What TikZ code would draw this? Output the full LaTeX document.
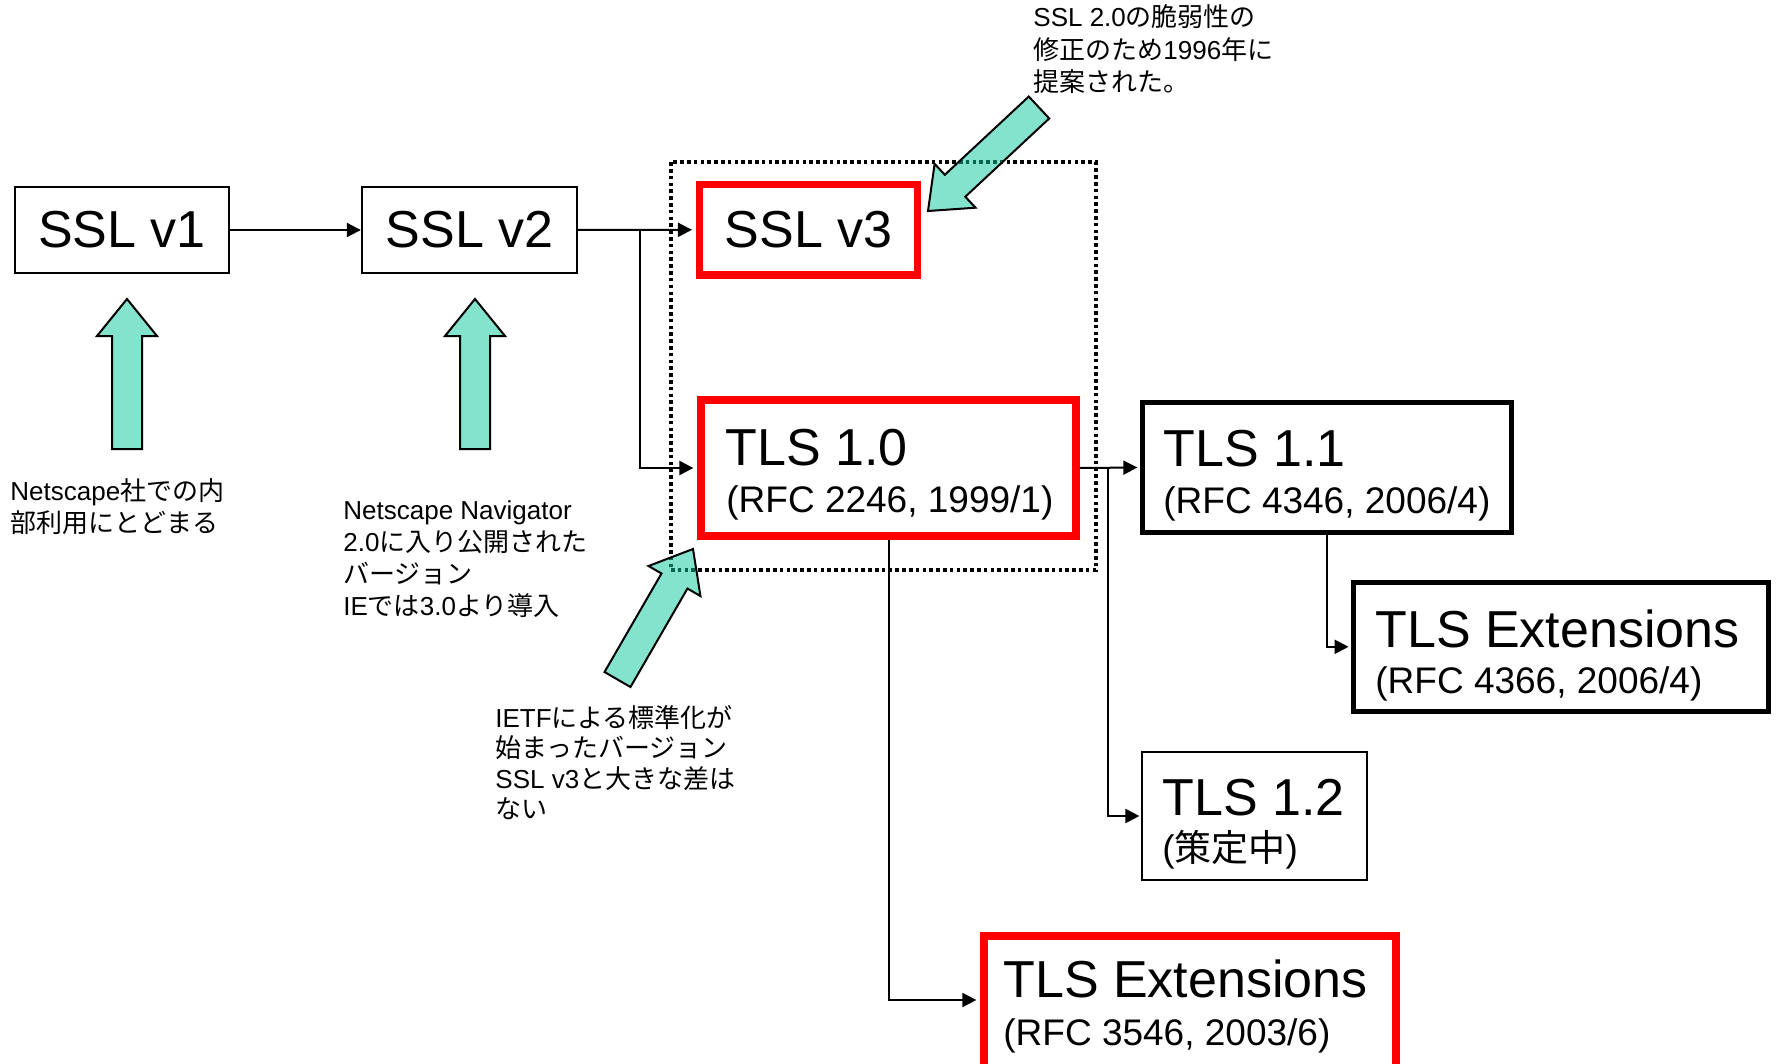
\documentclass[tikz,border=0pt]{standalone}
\usepackage{fontspec}
\setmainfont{Liberation Sans}
\newfontfamily\cjk{Noto Sans CJK JP}
\usetikzlibrary{arrows.meta,calc}
\definecolor{aquafill}{HTML}{0AC89C}
\definecolor{boxred}{HTML}{FF0000}
\newcommand\notelines[1]{\vtop{\halign{##\hfil\cr #1\crcr}}}
\newcommand\blockarrow[2]{%
  \coordinate (hb) at ($(#2)!18.5pt!(#1)$);
  \draw[barrow] ($(#1)!7.5pt!90:(#2)$) -- ($(hb)!7.5pt!-90:(#1)$) -- ($(hb)!15pt!-90:(#1)$) -- (#2)
     -- ($(hb)!15pt!90:(#1)$) -- ($(hb)!7.5pt!90:(#1)$) -- ($(#1)!7.5pt!-90:(#2)$) -- cycle;
}
\tikzset{
  boxthin/.style={draw, line width=1.2pt, inner sep=0pt, rectangle},
  boxthick/.style={draw, line width=2.5pt, inner sep=0pt, rectangle},
  boxredst/.style={draw=boxred, line width=3.85pt, inner sep=0pt, rectangle},
  bigtxt/.style={font=\fontsize{26}{30}\selectfont, inner sep=0pt},
  medtxt/.style={font=\fontsize{18.5}{22}\selectfont, inner sep=0pt},
  notetxt/.style={font=\fontsize{13}{16}\selectfont, inner sep=0pt, anchor=base west},
  conn/.style={draw, line width=1pt, -{Triangle[length=7pt,width=7pt]}},
  dotbox/.style={draw, line width=1.8pt, dash pattern=on 1.8pt off 1.6pt},
  barrow/.style={draw, line width=1pt, fill=aquafill, fill opacity=0.5, line join=miter},
}
\begin{document}
\begin{tikzpicture}[x=0.5pt,y=-0.5pt]
\useasboundingbox (0,0) rectangle (1776,1064);
\clip (0,0) rectangle (1776,1064);

% dotted group frame
\draw[dotbox] (670.7,162.3) rectangle (1095.7,570);

% boxes
\node[boxthin, bigtxt, minimum width=107pt, minimum height=43pt] (v1) at (122,230) {SSL v1};
\node[boxthin, bigtxt, minimum width=107.5pt, minimum height=43pt] (v2) at (469.5,230) {SSL v2};
\node[boxredst, bigtxt, minimum width=109pt, minimum height=45.25pt] (v3) at (808.6,229.8) {SSL v3};
\node[boxredst, minimum width=187.5pt, minimum height=68pt] (tls10) at (888.5,468) {};
\node[boxthick, minimum width=184.75pt, minimum height=64.8pt] (tls11) at (1327,467.5) {};
\node[boxthick, minimum width=207.25pt, minimum height=64.3pt] (ext2) at (1560.75,646.8) {};
\node[boxthin, minimum width=112.5pt, minimum height=63.75pt] (tls12) at (1254.3,816) {};
\node[boxredst, minimum width=206pt, minimum height=74pt] (ext1) at (1190,1010) {};

% box texts
\node[bigtxt, anchor=base west] (t10a) at (725,465) {TLS 1.0};
\node[medtxt, anchor=base west] (t10b) at (726,512.7) {(RFC 2246, 1999/1)};
\node[bigtxt, anchor=base west] (t11a) at (1163,466) {TLS 1.1};
\node[medtxt, anchor=base west] (t11b) at (1163,513) {(RFC 4346, 2006/4)};
\node[bigtxt, anchor=base west] (e2a) at (1375,647) {TLS Extensions};
\node[medtxt, anchor=base west] (e2b) at (1375,693) {(RFC 4366, 2006/4)};
\node[bigtxt, anchor=base west] (t12a) at (1162,815) {TLS 1.2};
\node[medtxt, anchor=base west] (t12b) at (1162,861.7) {({\cjk 策定中})};
\node[bigtxt, anchor=base west] (e1a) at (1003,997) {TLS Extensions};
\node[medtxt, anchor=base west] (e1b) at (1003,1045) {(RFC 3546, 2003/6)};

% connectors
\coordinate (b1) at (640,230);
\coordinate (b2) at (1108,468);
\draw[conn] (v1.east) -- (v2.west);
\draw[conn, shorten >=1.9pt] (v2.east) -- (v3.west);
\draw[conn, shorten >=1.9pt] (b1) |- (tls10.west);
\draw[conn, shorten >=1.2pt] (tls10.east) -- (tls11.west);
\draw[conn, shorten >=0.6pt] (b2) |- (tls12.west);
\draw[conn, shorten >=1.2pt] (tls11.south) |- (ext2.west);
\draw[conn, shorten >=1.9pt] (tls10.south) |- ([yshift=5pt]ext1.west);

% notes
\node[notetxt] (n1) at (1033,27) {\fontsize{13}{16.25}\selectfont\notelines{SSL 2.0{\cjk の脆弱性の}\cr {\cjk 修正のため}1996{\cjk 年に}\cr {\cjk 提案された。}}};
\node[notetxt] (n2) at (10,500) {\fontsize{13}{16}\selectfont\notelines{Netscape{\cjk 社での内}\cr {\cjk 部利用にとどまる}}};
\node[notetxt] (n3) at (343,519) {\fontsize{13}{16}\selectfont\notelines{Netscape Navigator\cr 2.0{\cjk に入り公開された}\cr {\cjk バージョン}\cr IE{\cjk では}3.0{\cjk より導入}}};
\node[notetxt] (n4) at (495,727) {\fontsize{13}{15.25}\selectfont\notelines{IETF{\cjk による標準化が}\cr {\cjk 始まったバージョン}\cr SSL v3{\cjk と大きな差は}\cr {\cjk ない}}};

% block arrows
\coordinate (a1t) at (127,449); \coordinate (a1h) at (127,299);
\coordinate (a2t) at (475,449); \coordinate (a2h) at (475,299);
\coordinate (a3t) at (1039,107.5); \coordinate (a3h) at (928,211);
\coordinate (a4t) at (617.5,679.5); \coordinate (a4h) at (693,549);
\blockarrow{a1t}{a1h}
\blockarrow{a2t}{a2h}
\blockarrow{a3t}{a3h}
\blockarrow{a4t}{a4h}
\end{tikzpicture}
\end{document}
